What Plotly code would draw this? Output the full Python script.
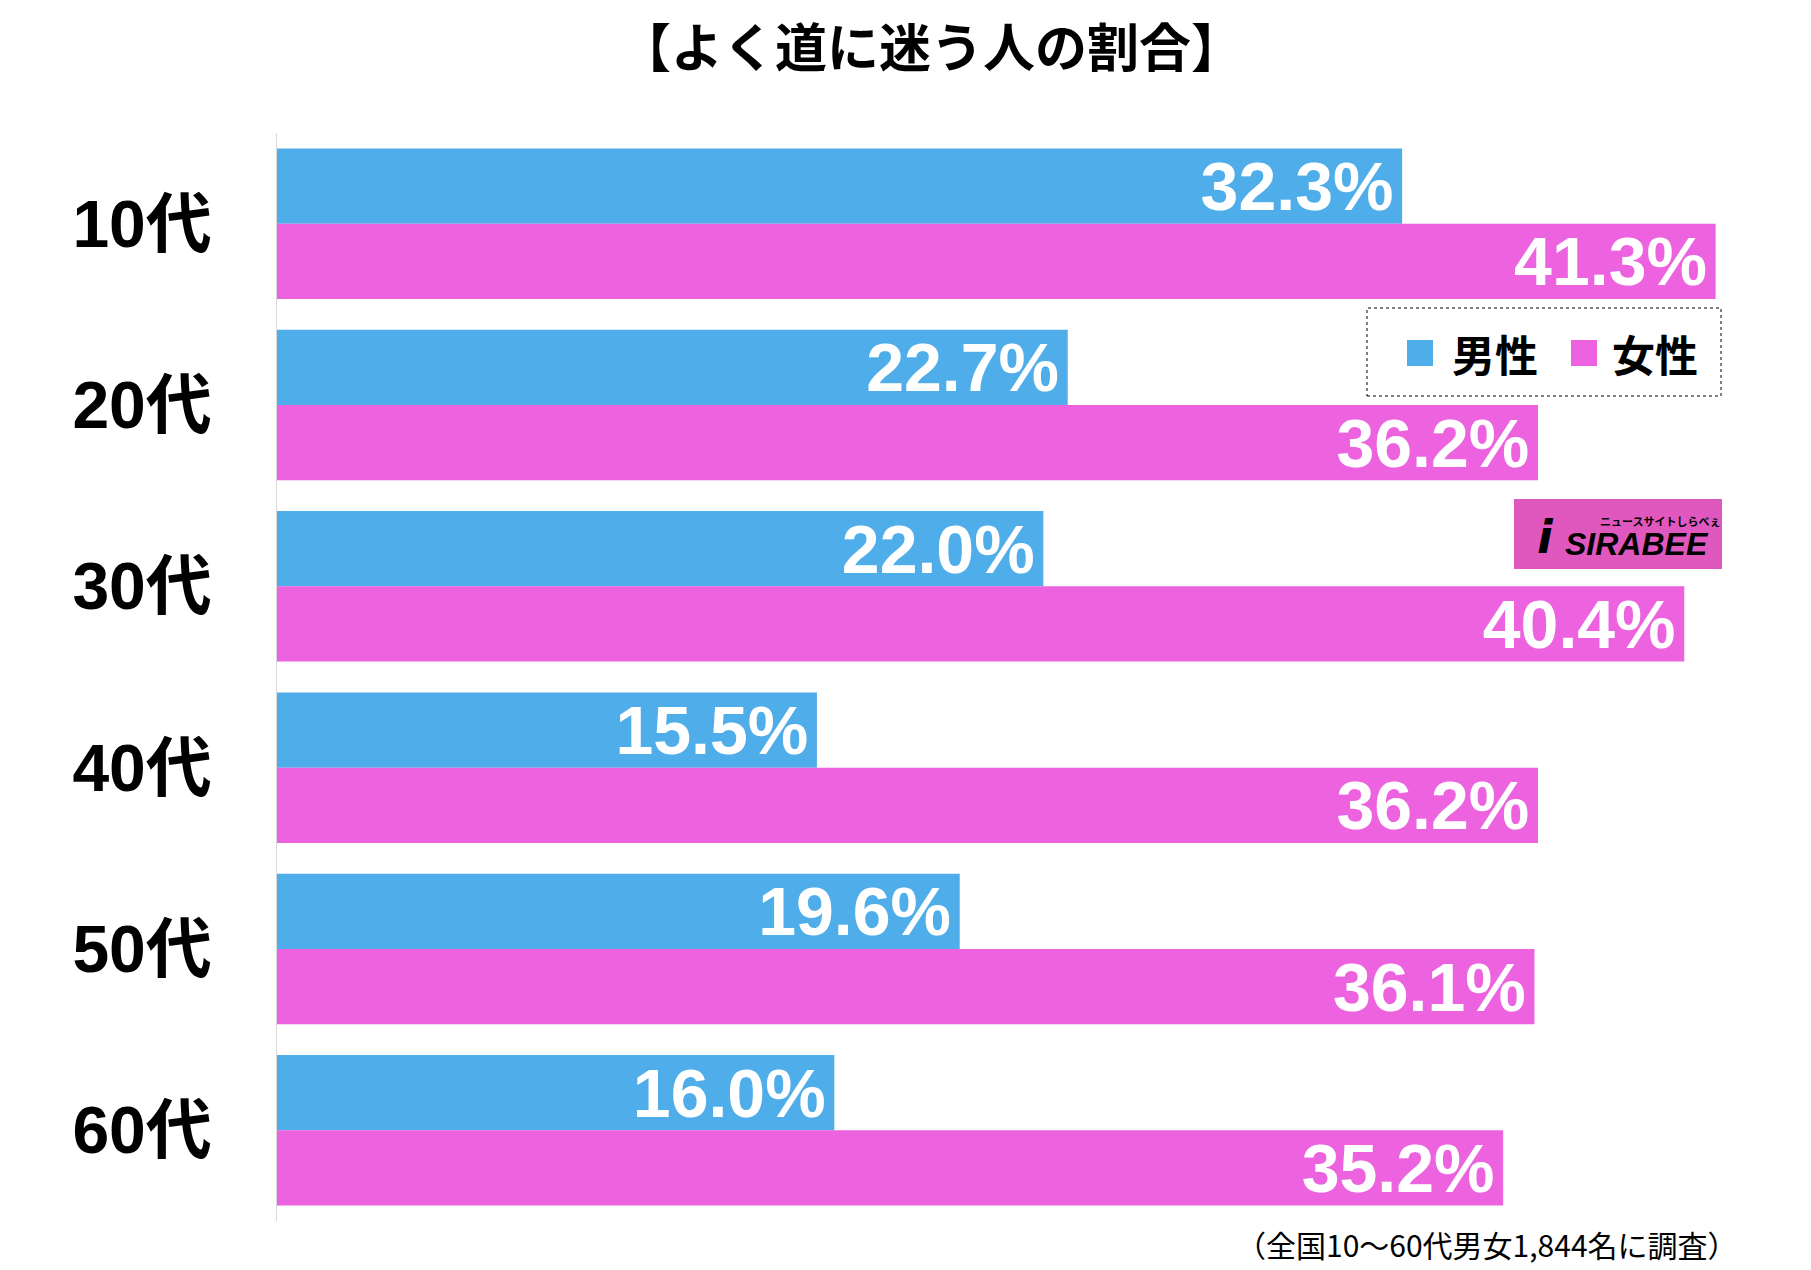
import plotly.graph_objects as go

# survey data
ages = ["10代", "20代", "30代", "40代", "50代", "60代"]
male = [32.3, 22.7, 22.0, 15.5, 19.6, 16.0]
female = [41.3, 36.2, 40.4, 36.2, 36.1, 35.2]
series_names = ["男性", "女性"]

BLUE = "#4FAEEA"
PINK = "#EC62DF"
JP_FONT = "Noto Sans CJK JP"
NUM_FONT = "Liberation Sans, Noto Sans CJK JP"

W, H = 1811, 1270
OFF = 8  # page body margin
L, R, T, B = 277 - OFF, 79, 133 - OFF, 57


def px_x(px):
    return (px - OFF - L) / (W - L - R)


def px_y(py):
    return (H - B - (py - OFF)) / (H - T - B)


fig = go.Figure()
for name, vals, color in [(series_names[0], male, BLUE), (series_names[1], female, PINK)]:
    fig.add_trace(go.Bar(
        x=vals, y=ages, orientation="h", name=name,
        marker=dict(color=color, line=dict(width=0)),
        texttemplate="%{x:.1f}%\u200a", textposition="inside",
        insidetextanchor="end", constraintext="none",
        textfont=dict(color="white", size=68, family=NUM_FONT, weight="bold"),
        hoverinfo="skip",
    ))

fig.update_layout(
    width=W, height=H,
    barmode="group", bargap=0.17, bargroupgap=0,
    showlegend=False,
    paper_bgcolor="white", plot_bgcolor="white",
    margin=dict(l=L, r=R, t=T, b=B),
)
fig.update_xaxes(range=[0, 42], visible=False)
fig.update_yaxes(
    autorange="reversed", showline=True, linecolor="#d9d9d9", linewidth=1,
    showgrid=False, ticks="", ticklabelstandoff=51,
    tickfont=dict(family=NUM_FONT, size=66, color="black", weight="bold"),
)

# title
fig.add_annotation(text="【よく道に迷う人の割合】", xref="paper", yref="paper",
                   x=px_x(931), y=px_y(44), xanchor="center", yanchor="middle",
                   showarrow=False,
                   font=dict(family=JP_FONT, size=52, color="black", weight="bold"))

# legend box (dotted) with swatches
fig.add_shape(type="rect", xref="paper", yref="paper",
              x0=px_x(1367), x1=px_x(1721), y0=px_y(396), y1=px_y(308),
              line=dict(color="black", width=1, dash="dot"), fillcolor="white")
for (sx0, tx), name, color in [((1407, 1450), series_names[0], BLUE),
                               ((1571, 1610), series_names[1], PINK)]:
    fig.add_shape(type="rect", xref="paper", yref="paper",
                  x0=px_x(sx0), x1=px_x(sx0 + 26), y0=px_y(366), y1=px_y(340),
                  line=dict(width=0), fillcolor=color)
    fig.add_annotation(text=name, xref="paper", yref="paper", x=px_x(tx), y=px_y(353),
                       xanchor="left", yanchor="middle", showarrow=False,
                       font=dict(family=JP_FONT, size=43, color="black", weight="bold"))

# SIRABEE logo
fig.add_shape(type="rect", xref="paper", yref="paper",
              x0=px_x(1514), x1=px_x(1722), y0=px_y(569), y1=px_y(499),
              line=dict(width=0), fillcolor="#E058BE")
fig.add_annotation(text="<b><i>i</i></b>", xref="paper", yref="paper",
                   x=px_x(1545), y=px_y(537), xanchor="center", yanchor="middle",
                   showarrow=False, font=dict(family="DejaVu Sans", size=46, color="black"))
fig.add_annotation(text="<b><i>SIRABEE</i></b>", xref="paper", yref="paper",
                   x=px_x(1563), y=px_y(544), xanchor="left", yanchor="middle",
                   showarrow=False, font=dict(family="Liberation Sans", size=32, color="black"))
fig.add_annotation(text="ニュースサイトしらべぇ", xref="paper", yref="paper",
                   x=px_x(1598), y=px_y(521), xanchor="left", yanchor="middle",
                   showarrow=False, font=dict(family=JP_FONT, size=11, color="black", weight="bold"))

# footnote
fig.add_annotation(text="（全国10〜60代男女1,844名に調査）", xref="paper", yref="paper",
                   x=px_x(1740), y=px_y(1244), xanchor="right", yanchor="middle",
                   showarrow=False, font=dict(family=JP_FONT, size=30, color="black"))

fig.write_html("out.html")
